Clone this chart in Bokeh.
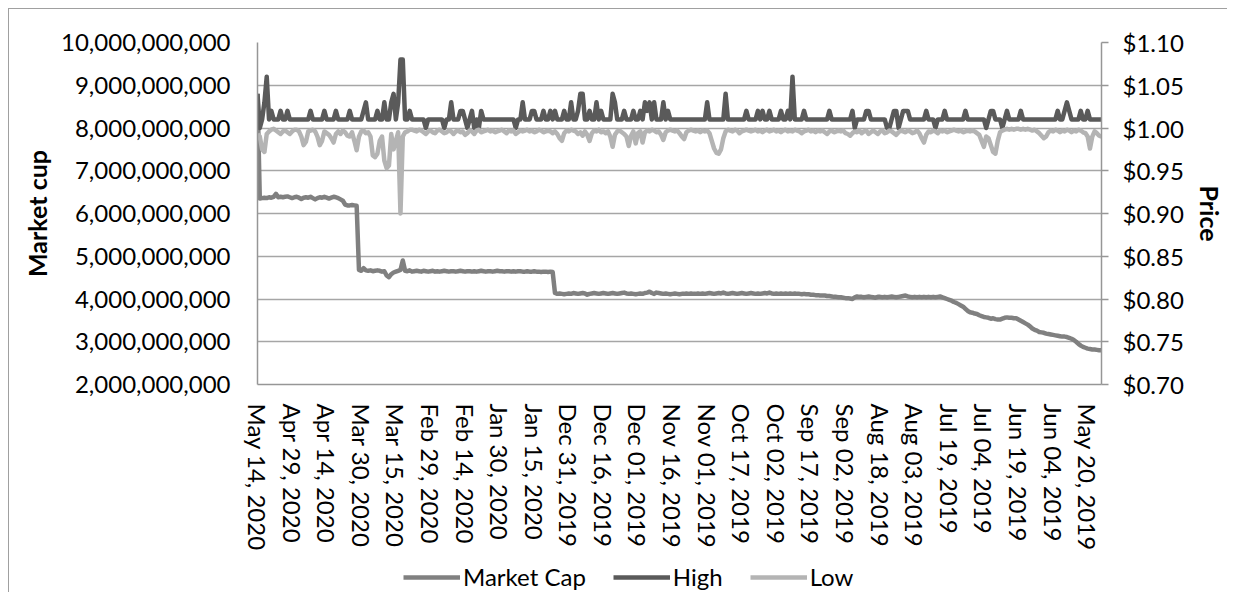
import pandas as pd
from bokeh.plotting import figure
from bokeh.layouts import column
from bokeh.models import (Range1d, LinearAxis, FixedTicker, Legend, LegendItem,
                          ColumnDataSource, Grid)
from bokeh.embed import file_html
from bokeh.resources import INLINE

# ---------------- data ----------------
# daily dates, newest first (May 14, 2020 back to May 14, 2019)
DATES = [d.strftime("%b %d, %Y") for d in pd.date_range("2019-05-14", "2020-05-14", freq="D")[::-1]]

MARKET_CAP_BN = [
    8.80, 6.35, 6.36, 6.37, 6.36, 6.38, 6.37, 6.39, 6.46, 6.38,
    6.39, 6.38, 6.39, 6.40, 6.38, 6.36, 6.38, 6.39, 6.37, 6.34,
    6.37, 6.38, 6.37, 6.39, 6.36, 6.33, 6.36, 6.38, 6.37, 6.39,
    6.37, 6.35, 6.37, 6.39, 6.38, 6.36, 6.33, 6.30, 6.21, 6.19,
    6.19, 6.20, 6.19, 6.18, 4.68, 4.66, 4.72, 4.67, 4.66, 4.67,
    4.65, 4.66, 4.67, 4.66, 4.64, 4.65, 4.55, 4.51, 4.58, 4.62,
    4.64, 4.66, 4.68, 4.90, 4.66, 4.65, 4.67, 4.64, 4.65, 4.66,
    4.65, 4.64, 4.66, 4.65, 4.64, 4.65, 4.66, 4.64, 4.65, 4.64,
    4.65, 4.66, 4.65, 4.64, 4.65, 4.65, 4.64, 4.65, 4.66, 4.65,
    4.64, 4.65, 4.65, 4.64, 4.65, 4.64, 4.65, 4.66, 4.65, 4.64,
    4.65, 4.65, 4.64, 4.65, 4.66, 4.65, 4.65, 4.64, 4.65, 4.65,
    4.64, 4.65, 4.64, 4.65, 4.65, 4.64, 4.64, 4.65, 4.64, 4.64,
    4.65, 4.64, 4.64, 4.63, 4.64, 4.64, 4.63, 4.64, 4.63, 4.14,
    4.12, 4.13, 4.12, 4.11, 4.12, 4.13, 4.12, 4.14, 4.13, 4.12,
    4.13, 4.14, 4.13, 4.10, 4.12, 4.13, 4.14, 4.13, 4.12, 4.13,
    4.14, 4.13, 4.12, 4.13, 4.14, 4.13, 4.12, 4.13, 4.14, 4.15,
    4.13, 4.12, 4.13, 4.12, 4.11, 4.12, 4.13, 4.12, 4.14, 4.15,
    4.17, 4.14, 4.12, 4.15, 4.14, 4.13, 4.12, 4.13, 4.12, 4.11,
    4.12, 4.13, 4.12, 4.11, 4.12, 4.12, 4.13, 4.12, 4.13, 4.12,
    4.12, 4.13, 4.12, 4.13, 4.12, 4.13, 4.14, 4.13, 4.12, 4.13,
    4.14, 4.13, 4.15, 4.13, 4.12, 4.13, 4.14, 4.13, 4.12, 4.13,
    4.14, 4.13, 4.12, 4.13, 4.14, 4.13, 4.12, 4.13, 4.12, 4.13,
    4.14, 4.13, 4.15, 4.13, 4.12, 4.13, 4.12, 4.13, 4.12, 4.13,
    4.12, 4.13, 4.12, 4.13, 4.12, 4.12, 4.11, 4.12, 4.11, 4.11,
    4.10, 4.10, 4.09, 4.09, 4.08, 4.08, 4.08, 4.07, 4.07, 4.06,
    4.05, 4.05, 4.04, 4.04, 4.03, 4.02, 4.02, 4.01, 4.00, 4.04,
    4.06, 4.05, 4.05, 4.04, 4.05, 4.06, 4.05, 4.04, 4.03, 4.05,
    4.05, 4.04, 4.05, 4.04, 4.05, 4.06, 4.05, 4.04, 4.05, 4.06,
    4.07, 4.08, 4.06, 4.05, 4.04, 4.05, 4.04, 4.05, 4.04, 4.05,
    4.04, 4.05, 4.04, 4.05, 4.04, 4.05, 4.06, 4.04, 4.02, 4.00,
    3.98, 3.96, 3.93, 3.91, 3.88, 3.85, 3.82, 3.77, 3.72, 3.69,
    3.68, 3.66, 3.65, 3.62, 3.60, 3.58, 3.57, 3.56, 3.54, 3.55,
    3.53, 3.52, 3.52, 3.54, 3.56, 3.57, 3.56, 3.56, 3.55, 3.55,
    3.52, 3.49, 3.46, 3.43, 3.40, 3.36, 3.31, 3.28, 3.26, 3.23,
    3.22, 3.21, 3.19, 3.18, 3.17, 3.16, 3.15, 3.14, 3.13, 3.12,
    3.12, 3.11, 3.09, 3.07, 3.04, 3.00, 2.95, 2.91, 2.88, 2.86,
    2.84, 2.83, 2.82, 2.82, 2.81, 2.80, 2.80,
]

HIGH = [
    1.04, 1.00, 1.01, 1.03, 1.06, 1.01, 1.02, 1.01, 1.01, 1.01,
    1.02, 1.01, 1.01, 1.02, 1.01, 1.01, 1.01, 1.01, 1.01, 1.01,
    1.01, 1.01, 1.01, 1.02, 1.01, 1.01, 1.01, 1.01, 1.01, 1.02,
    1.01, 1.01, 1.01, 1.01, 1.02, 1.01, 1.01, 1.01, 1.01, 1.01,
    1.02, 1.01, 1.01, 1.01, 1.01, 1.01, 1.02, 1.03, 1.01, 1.01,
    1.01, 1.01, 1.02, 1.01, 1.01, 1.03, 1.01, 1.01, 1.03, 1.04,
    1.01, 1.03, 1.08, 1.08, 1.01, 1.01, 1.02, 1.01, 1.01, 1.01,
    1.01, 1.01, 1.01, 1.00, 1.01, 1.01, 1.01, 1.01, 1.01, 1.01,
    1.01, 1.00, 1.01, 1.01, 1.03, 1.01, 1.01, 1.01, 1.02, 1.02,
    1.01, 1.00, 1.01, 1.02, 1.00, 1.01, 1.00, 1.02, 1.01, 1.01,
    1.01, 1.01, 1.01, 1.01, 1.01, 1.01, 1.01, 1.01, 1.01, 1.01,
    1.01, 1.01, 1.00, 1.01, 1.01, 1.03, 1.01, 1.01, 1.01, 1.02,
    1.02, 1.01, 1.01, 1.01, 1.02, 1.01, 1.01, 1.02, 1.01, 1.02,
    1.01, 1.01, 1.01, 1.02, 1.01, 1.01, 1.03, 1.01, 1.01, 1.02,
    1.04, 1.04, 1.01, 1.01, 1.02, 1.01, 1.01, 1.03, 1.01, 1.02,
    1.01, 1.01, 1.01, 1.01, 1.04, 1.03, 1.01, 1.01, 1.01, 1.02,
    1.01, 1.01, 1.01, 1.02, 1.01, 1.01, 1.02, 1.01, 1.03, 1.02,
    1.03, 1.01, 1.03, 1.01, 1.01, 1.01, 1.03, 1.01, 1.02, 1.01,
    1.01, 1.01, 1.01, 1.01, 1.01, 1.01, 1.01, 1.01, 1.01, 1.01,
    1.01, 1.01, 1.01, 1.01, 1.01, 1.03, 1.01, 1.01, 1.01, 1.01,
    1.01, 1.01, 1.01, 1.04, 1.01, 1.01, 1.01, 1.01, 1.01, 1.01,
    1.01, 1.01, 1.02, 1.01, 1.01, 1.01, 1.01, 1.02, 1.01, 1.02,
    1.01, 1.01, 1.02, 1.01, 1.01, 1.01, 1.01, 1.02, 1.01, 1.01,
    1.02, 1.01, 1.06, 1.01, 1.01, 1.01, 1.01, 1.02, 1.01, 1.01,
    1.01, 1.01, 1.01, 1.01, 1.01, 1.01, 1.01, 1.01, 1.02, 1.01,
    1.01, 1.01, 1.01, 1.01, 1.01, 1.01, 1.01, 1.01, 1.02, 1.00,
    1.01, 1.01, 1.01, 1.01, 1.02, 1.02, 1.01, 1.01, 1.01, 1.01,
    1.01, 1.01, 1.01, 1.00, 1.00, 1.01, 1.02, 1.02, 1.00, 1.01,
    1.02, 1.02, 1.02, 1.01, 1.01, 1.01, 1.01, 1.01, 1.01, 1.01,
    1.02, 1.01, 1.01, 1.01, 1.00, 1.01, 1.01, 1.01, 1.02, 1.01,
    1.01, 1.01, 1.01, 1.01, 1.01, 1.01, 1.01, 1.02, 1.01, 1.01,
    1.01, 1.01, 1.01, 1.01, 1.01, 1.01, 1.00, 1.01, 1.02, 1.02,
    1.01, 1.01, 1.01, 1.00, 1.01, 1.02, 1.01, 1.01, 1.01, 1.01,
    1.01, 1.02, 1.01, 1.01, 1.01, 1.01, 1.01, 1.01, 1.01, 1.01,
    1.01, 1.01, 1.01, 1.01, 1.01, 1.01, 1.01, 1.02, 1.01, 1.01,
    1.02, 1.03, 1.02, 1.01, 1.01, 1.01, 1.01, 1.02, 1.01, 1.01,
    1.02, 1.01, 1.01, 1.01, 1.01, 1.01, 1.01,
]

LOW = [
    0.993, 0.990, 0.975, 0.972, 0.993, 0.996, 0.998, 0.999, 0.997, 0.995,
    0.993, 0.996, 0.997, 0.995, 0.993, 0.996, 0.998, 0.998, 0.996, 0.990,
    0.980, 0.984, 0.996, 0.997, 0.998, 0.996, 0.990, 0.980, 0.985, 0.996,
    0.994, 0.992, 0.988, 0.983, 0.993, 0.996, 0.993, 0.997, 0.995, 0.991,
    0.990, 0.995, 0.985, 0.974, 0.990, 0.996, 0.997, 0.994, 0.995, 0.990,
    0.968, 0.966, 0.970, 0.985, 0.990, 0.962, 0.953, 0.956, 0.993, 0.975,
    0.985, 0.995, 0.900, 0.990, 0.995, 0.996, 0.998, 0.998, 0.997, 0.996,
    0.998, 0.997, 0.995, 0.993, 0.996, 0.997, 0.995, 0.994, 0.997, 0.998,
    0.996, 0.994, 0.995, 0.997, 0.996, 0.993, 0.996, 0.997, 0.995, 0.996,
    0.992, 0.994, 0.997, 0.996, 0.993, 0.997, 0.998, 0.995, 0.996, 0.997,
    0.998, 0.996, 0.997, 0.995, 0.996, 0.997, 0.998, 0.996, 0.994, 0.997,
    0.996, 0.997, 0.993, 0.995, 0.997, 0.996, 0.997, 0.998, 0.996, 0.997,
    0.995, 0.996, 0.998, 0.997, 0.995, 0.996, 0.997, 0.996, 0.994, 0.996,
    0.993, 0.988, 0.985, 0.994, 0.997, 0.996, 0.998, 0.997, 0.996, 0.993,
    0.995, 0.991, 0.996, 0.992, 0.985, 0.994, 0.997, 0.996, 0.998, 0.995,
    0.996, 0.994, 0.996, 0.990, 0.978, 0.992, 0.996, 0.997, 0.995, 0.993,
    0.990, 0.979, 0.991, 0.996, 0.982, 0.994, 0.996, 0.983, 0.995, 0.997,
    0.996, 0.998, 0.997, 0.995, 0.996, 0.992, 0.986, 0.995, 0.997, 0.998,
    0.997, 0.996, 0.997, 0.994, 0.990, 0.987, 0.995, 0.997, 0.998, 0.997,
    0.996, 0.997, 0.995, 0.997, 0.996, 0.997, 0.994, 0.985, 0.976, 0.971,
    0.970, 0.975, 0.988, 0.996, 0.998, 0.997, 0.996, 0.998, 0.997, 0.994,
    0.996, 0.997, 0.998, 0.997, 0.996, 0.997, 0.998, 0.996, 0.997, 0.995,
    0.997, 0.998, 0.996, 0.997, 0.998, 0.996, 0.997, 0.995, 0.997, 0.998,
    0.996, 0.997, 0.996, 0.998, 0.997, 0.996, 0.994, 0.996, 0.997, 0.998,
    0.996, 0.997, 0.995, 0.997, 0.996, 0.997, 0.995, 0.993, 0.996, 0.997,
    0.995, 0.996, 0.997, 0.996, 0.997, 0.994, 0.993, 0.991, 0.994, 0.996,
    0.995, 0.997, 0.994, 0.996, 0.997, 0.993, 0.995, 0.997, 0.995, 0.993,
    0.996, 0.997, 0.994, 0.995, 0.997, 0.996, 0.994, 0.992, 0.995, 0.997,
    0.996, 0.995, 0.997, 0.996, 0.994, 0.995, 0.997, 0.994, 0.988, 0.983,
    0.992, 0.996, 0.995, 0.997, 0.996, 0.994, 0.997, 0.996, 0.997, 0.995,
    0.996, 0.997, 0.998, 0.997, 0.996, 0.997, 0.995, 0.996, 0.997, 0.996,
    0.997, 0.996, 0.994, 0.992, 0.985, 0.978, 0.990, 0.988, 0.980, 0.972,
    0.970, 0.985, 0.995, 0.997, 0.998, 0.999, 0.998, 0.999, 0.998, 0.999,
    0.999, 0.998, 0.999, 0.998, 0.999, 0.998, 0.997, 0.998, 0.996, 0.994,
    0.991, 0.988, 0.990, 0.995, 0.997, 0.996, 0.998, 0.997, 0.995, 0.997,
    0.996, 0.998, 0.997, 0.995, 0.997, 0.996, 0.998, 0.997, 0.995, 0.994,
    0.990, 0.976, 0.990, 0.996, 0.994, 0.991, 0.990,
]

LEFT_TICKS = [2, 3, 4, 5, 6, 7, 8, 9, 10]
LEFT_TICK_LABELS = ["2,000,000,000", "3,000,000,000", "4,000,000,000", "5,000,000,000",
                    "6,000,000,000", "7,000,000,000", "8,000,000,000", "9,000,000,000",
                    "10,000,000,000"]
RIGHT_TICKS = [0.70, 0.75, 0.80, 0.85, 0.90, 0.95, 1.00, 1.05, 1.10]
RIGHT_TICK_LABELS = ["$0.70", "$0.75", "$0.80", "$0.85", "$0.90", "$0.95", "$1.00", "$1.05", "$1.10"]
X_TICK_STEP = 15
SERIES_NAMES = ["Market Cap", "High", "Low"]
SERIES_COLORS = ["#808080", "#5a5a5a", "#b4b4b4"]

# ---------------- chart ----------------
idx = list(range(len(DATES)))
src = ColumnDataSource(dict(x=idx, date=DATES, mcap=MARKET_CAP_BN, high=HIGH, low=LOW))

FONT = "Lato"
FS = "24px"
TFS = "25px"
GRID = "#a6a6a6"
AXIS = "#969696"
LW = 4.5

p = figure(width=1218, height=551, output_backend="svg", toolbar_location=None,
           x_range=Range1d(0, len(DATES) - 1), y_range=Range1d(2, 10),
           min_border_left=248, min_border_right=126, min_border_top=33,
           min_border_bottom=176, x_axis_location=None, y_axis_location=None)
p.outline_line_color = None
p.background_fill_color = "white"
p.border_fill_color = "white"

p.extra_y_ranges = {"price": Range1d(0.70, 1.10)}

yl = LinearAxis(ticker=FixedTicker(ticks=LEFT_TICKS),
                major_label_overrides={t: l for t, l in zip(LEFT_TICKS, LEFT_TICK_LABELS)},
                axis_label="Market cup")
yr = LinearAxis(y_range_name="price", ticker=FixedTicker(ticks=RIGHT_TICKS),
                major_label_overrides={t: l for t, l in zip(RIGHT_TICKS, RIGHT_TICK_LABELS)},
                axis_label="Price")
xt = idx[::X_TICK_STEP]
xa = LinearAxis(ticker=FixedTicker(ticks=xt),
                major_label_overrides={i: DATES[i] for i in xt},
                major_label_orientation="vertical")

for ax in (yl, yr, xa):
    ax.major_label_text_font = FONT
    ax.major_label_text_font_size = FS
    ax.major_label_text_color = "black"
    ax.axis_label_text_font = FONT
    ax.axis_label_text_font_size = TFS
    ax.axis_label_text_font_style = "bold"
    ax.axis_label_text_color = "black"
    ax.axis_line_color = AXIS
    ax.axis_line_width = 1.5
    ax.minor_tick_line_color = None
    ax.major_tick_in = 0

yl.major_tick_line_color = None
yl.major_tick_out = 0
yl.major_label_standoff = 27
yl.axis_label_standoff = 6

yr.major_tick_line_color = AXIS
yr.major_tick_line_width = 1.5
yr.major_tick_out = 7
yr.major_label_standoff = 14
yr.axis_label_standoff = 8

xa.major_tick_line_color = None
xa.major_tick_out = 0
xa.major_label_standoff = 19

p.add_layout(yl, "left")
p.add_layout(yr, "right")
p.add_layout(xa, "below")

p.xgrid.visible = False
p.ygrid.visible = False
p.add_layout(Grid(dimension=1, ticker=FixedTicker(ticks=LEFT_TICKS),
                  grid_line_color=GRID, grid_line_width=1.5))

p.line("x", "mcap", source=src, line_color=SERIES_COLORS[0], line_width=LW, line_join="round")
p.line("x", "high", source=src, y_range_name="price", line_color=SERIES_COLORS[1],
       line_width=LW, line_join="round")
p.line("x", "low", source=src, y_range_name="price", line_color=SERIES_COLORS[2],
       line_width=LW, line_join="round")

# ---------------- legend strip (below the chart) ----------------
q = figure(width=1218, height=32, output_backend="svg", toolbar_location=None,
           min_border=0, x_axis_location=None, y_axis_location=None,
           x_range=Range1d(0, 1), y_range=Range1d(0, 1))
q.outline_line_color = None
q.xgrid.visible = False
q.ygrid.visible = False
items = []
for name, col in zip(SERIES_NAMES, SERIES_COLORS):
    # single-point line: draws nothing itself, only supplies the legend swatch style
    r = q.line(x=[-1], y=[-1], line_color=col, line_width=LW)
    items.append(LegendItem(label=name, renderers=[r]))
legend = Legend(items=items, location=(146, 1), orientation="horizontal",
                glyph_width=57, glyph_height=20, label_standoff=3, spacing=27,
                padding=0, margin=0, border_line_color=None, background_fill_alpha=0,
                label_text_font=FONT, label_text_font_size=FS, label_text_color="black")
q.add_layout(legend, "center")

layout = column(p, q, spacing=0)
layout.styles = {"transform": "translate(8px, 8px)",
                 "border-left": "1px solid #a0a0a0", "border-top": "1px solid #a0a0a0"}

open("out.html", "w").write(file_html(layout, INLINE))
